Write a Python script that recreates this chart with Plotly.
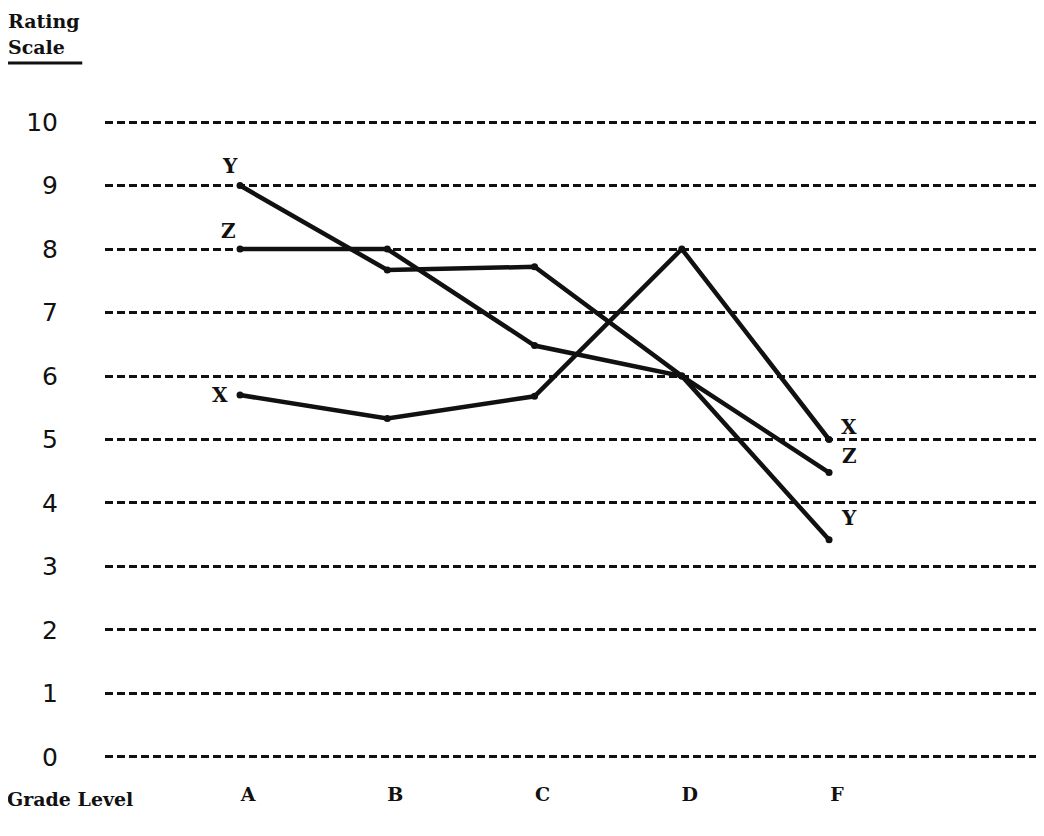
import plotly.graph_objects as go

grades = ["A", "B", "C", "D", "F"]
ticks_y = [0, 1, 2, 3, 4, 5, 6, 7, 8, 9, 10]
series_x = [5.7, 5.33, 5.68, 8.0, 5.0]
series_y = [9.0, 7.67, 7.72, 6.0, 3.42]
series_z = [8.0, 8.0, 6.48, 6.0, 4.48]
names = ["X", "Y", "Z"]

xpos = list(range(len(grades)))
FONT_TXT = "DejaVu Serif"
FONT_NUM = "DejaVu Sans"
INK = "#111111"

fig = go.Figure()
for name, vals in zip(names, [series_x, series_y, series_z]):
    fig.add_trace(go.Scatter(
        x=xpos, y=vals, mode="lines+markers", name=name,
        line=dict(color=INK, width=4.5),
        marker=dict(color=INK, size=7),
        showlegend=False, hoverinfo="skip",
    ))

start_off = {"X": (-20, 0), "Y": (-10, -20), "Z": (-12, -18)}
end_off = {"X": (20, -13), "Z": (20, -17), "Y": (20, -22)}
for name, vals in zip(names, [series_x, series_y, series_z]):
    ax, ay = start_off[name]
    fig.add_annotation(x=xpos[0], y=vals[0], text=name, showarrow=False,
                       xshift=ax, yshift=-ay,
                       font=dict(family=FONT_TXT, size=20, color=INK, weight="bold"))
    bx, by = end_off[name]
    fig.add_annotation(x=xpos[-1], y=vals[-1], text=name, showarrow=False,
                       xshift=bx, yshift=-by,
                       font=dict(family=FONT_TXT, size=20, color=INK, weight="bold"))

fig.add_annotation(x=0, y=1, xref="paper", yref="paper", xanchor="left", yanchor="middle",
                   text="Rating", showarrow=False, xshift=-99, yshift=82,
                   font=dict(family=FONT_TXT, size=19, color=INK, weight="bold"))
fig.add_annotation(x=0, y=1, xref="paper", yref="paper", xanchor="left", yanchor="middle",
                   text="Scale", showarrow=False, xshift=-99, yshift=56,
                   font=dict(family=FONT_TXT, size=19, color=INK, weight="bold"))
fig.add_shape(type="line", xref="paper", yref="paper", x0=-0.1024, x1=-0.024,
              y0=1.0594, y1=1.0594, line=dict(color=INK, width=3))

fig.add_annotation(x=0, y=0, xref="paper", yref="paper", xanchor="left", yanchor="middle",
                   text="Grade Level", showarrow=False, xshift=-100, yshift=-23,
                   font=dict(family=FONT_TXT, size=19, color=INK, weight="bold"))

fig.update_xaxes(range=[-0.917, 5.514], tickvals=xpos, ticktext=grades, showgrid=False,
                 zeroline=False, showline=False, ticks="", ticklabelstandoff=5,
                 ticklabelshift=8,
                 tickfont=dict(family=FONT_TXT, size=19, color=INK, weight="bold"))
fig.update_yaxes(range=[-0.3, 10.3], tickvals=ticks_y, showgrid=True, gridcolor=INK,
                 gridwidth=3, griddash="8px,4px", zeroline=False, showline=False, ticks="",
                 ticklabelstandoff=46,
                 tickfont=dict(family=FONT_NUM, size=25, color=INK))

fig.update_layout(width=1044, height=836, plot_bgcolor="white", paper_bgcolor="white",
                  margin=dict(l=97, r=0, t=95, b=68))
fig.write_html("out.html")
